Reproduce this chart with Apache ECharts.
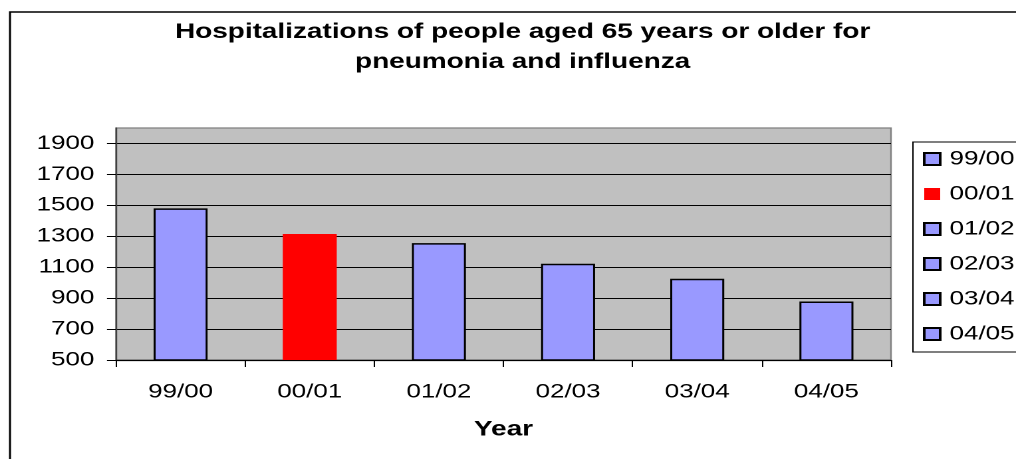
<!DOCTYPE html>
<html>
<head>
<meta charset="utf-8">
<script src="https://cdn.jsdelivr.net/npm/echarts@6/dist/echarts.min.js"></script>
<style>
  html, body { margin: 0; padding: 0; background: #fff; overflow: hidden; }
  #wrap { width: 1016px; height: 459px; overflow: hidden; position: relative; }
  /* chart is laid out narrow and stretched horizontally */
  #chart { width: 764px; height: 459px; transform: scaleX(1.32984); transform-origin: 0 0; }
</style>
</head>
<body>
<div id="wrap"><div id="chart"></div></div>
<script>
// Seasons on the x axis
const seasons = ['99/00', '00/01', '01/02', '02/03', '03/04', '04/05'];
// Hospitalizations per season
const hospitalizations = [1480, 1315, 1256, 1122, 1025, 878];
// Fill colour per season (2000/01 highlighted)
const seasonColors = ['#9999FF', '#FF0000', '#9999FF', '#9999FF', '#9999FF', '#9999FF'];
// Value-axis tick labels
const yTicks = [500, 700, 900, 1100, 1300, 1500, 1700, 1900];

const chart = echarts.init(document.getElementById('chart'), null, { devicePixelRatio: 2 });

const font = '"Liberation Sans", Arial, sans-serif';

// One series per season so each gets its own legend entry; overlap them in one slot.
const series = seasons.map((name, i) => {
  const highlighted = seasonColors[i] === '#FF0000';
  return {
    name: name,
    type: 'bar',
    barWidth: 40.6,
    barGap: '-100%',
    data: seasons.map((_, j) => (j === i ? hospitalizations[i] : '-')),
    itemStyle: {
      color: seasonColors[i],
      borderColor: '#000',
      borderWidth: highlighted ? 0 : 1.5
    },
    emphasis: { disabled: true }
  };
});

chart.setOption({
  animation: false,
  backgroundColor: '#fff',
  textStyle: { fontFamily: font },
  title: {
    text: 'Hospitalizations of people aged 65 years or older for\npneumonia and influenza',
    left: 393,
    top: 17,
    padding: 0,
    textAlign: 'center',
    textStyle: {
      fontFamily: font,
      fontWeight: 'bold',
      fontSize: 21,
      lineHeight: 30,
      color: '#000'
    }
  },
  graphic: [{
    type: 'rect',
    shape: { x: 7.5, y: 12, width: 900, height: 520 },
    style: { fill: null, stroke: '#000', lineWidth: 1.5 },
    silent: true,
    z: -1
  }],
  legend: {
    orient: 'vertical',
    left: 686.5,
    top: 142,
    padding: [7, 8, 8, 7.5],
    itemGap: 15,
    itemWidth: 12,
    itemHeight: 12,
    icon: 'rect',
    borderColor: '#000',
    borderWidth: 1,
    data: seasons,
    selectedMode: false,
    textStyle: { fontFamily: font, fontSize: 19.5, lineHeight: 19, color: '#000', padding: [0, 0, 0, 2] }
  },
  grid: {
    left: 87.23,
    right: 94,
    top: 128,
    bottom: 99,
    show: true,
    backgroundColor: '#C0C0C0',
    borderColor: '#808080',
    borderWidth: 1.2,
    containLabel: false
  },
  xAxis: {
    type: 'category',
    data: seasons,
    boundaryGap: true,
    name: 'Year',
    nameLocation: 'middle',
    nameGap: 59,
    nameTextStyle: { fontFamily: font, fontWeight: 'bold', fontSize: 21, color: '#000' },
    axisLine: { show: true, lineStyle: { color: '#000', width: 1.2 } },
    axisTick: { show: true, alignWithLabel: false, length: 7, lineStyle: { color: '#000', width: 1 } },
    axisLabel: { fontFamily: font, fontSize: 19.5, color: '#000', margin: 22 },
    splitLine: { show: false }
  },
  yAxis: {
    type: 'value',
    min: 500,
    max: 2000,
    interval: 200,
    axisLine: { show: true, lineStyle: { color: '#404040', width: 1.2 } },
    axisTick: { show: true, length: 6.8, customValues: yTicks, lineStyle: { color: '#000', width: 1 } },
    axisLabel: {
      fontFamily: font, fontSize: 19.5, color: '#000', margin: 16.3,
      customValues: yTicks,
      formatter: v => (yTicks.indexOf(v) >= 0 ? String(v) : '')
    },
    splitLine: { show: true, lineStyle: { color: '#000', width: 1 } }
  },
  series: series
});
</script>
</body>
</html>
